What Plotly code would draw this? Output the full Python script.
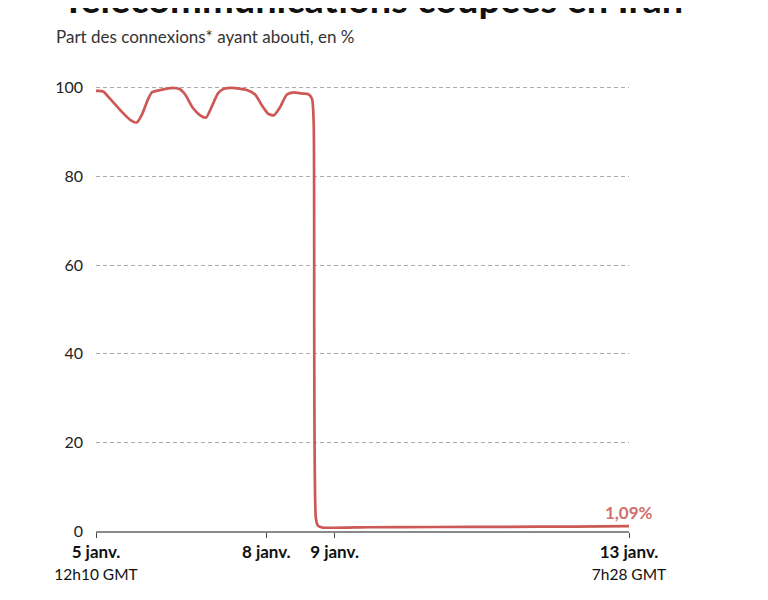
import plotly.graph_objects as go

# --- data ---
times = [
    "2026-01-05 12:10", "2026-01-05 14:40", "2026-01-05 17:10", "2026-01-05 20:40",
    "2026-01-06 00:10", "2026-01-06 02:30", "2026-01-06 04:20", "2026-01-06 06:30",
    "2026-01-06 07:50", "2026-01-06 10:40", "2026-01-06 15:10", "2026-01-06 17:40",
    "2026-01-06 19:30", "2026-01-06 22:10", "2026-01-07 00:45", "2026-01-07 02:50",
    "2026-01-07 05:00", "2026-01-07 07:05", "2026-01-07 09:10", "2026-01-07 12:00",
    "2026-01-07 17:10", "2026-01-07 20:05", "2026-01-07 22:30", "2026-01-08 00:35",
    "2026-01-08 02:40", "2026-01-08 04:45", "2026-01-08 07:15", "2026-01-08 09:45",
    "2026-01-08 12:35", "2026-01-08 14:40", "2026-01-08 16:05", "2026-01-08 16:40",
    "2026-01-08 17:25", "2026-01-08 18:10", "2026-01-08 19:35", "2026-01-09 12:00",
    "2026-01-10 12:00", "2026-01-11 12:00", "2026-01-12 12:00", "2026-01-13 07:28",
]
values = [
    99.3, 99.2, 97.5, 95.0,
    92.8, 92.2, 94.0, 97.5,
    99.0, 99.5, 100.0, 99.7,
    98.5, 95.5, 93.8, 93.3,
    96.0, 98.8, 99.8, 100.0,
    99.5, 98.5, 96.0, 94.2,
    93.8, 95.5, 98.5, 99.0,
    98.7, 98.6, 97.5, 92.0,
    3.0, 1.2, 0.8, 0.85,
    0.9, 0.95, 1.0, 1.09,
]
tick_vals = ["2026-01-05 12:10", "2026-01-08 00:00", "2026-01-09 00:00", "2026-01-13 07:28"]
tick_bold = ["5 janv.", "8 janv.", "9 janv.", "13 janv."]
tick_sub = ["12h10 GMT", "", "", "7h28 GMT"]
y_ticks = [0, 20, 40, 60, 80, 100]
title_text = "Télécommunications coupées en Iran"
subtitle_text = "Part des connexions* ayant abouti, en %"
last_label = "1,09%"

FONT = "Lato"
RED = "#cc5955"

tick_text = [
    "<b>" + b + "</b>" + ("<br><span style='font-size:15.5px'>" + s + "</span>" if s else "")
    for b, s in zip(tick_bold, tick_sub)
]

fig = go.Figure()
fig.add_trace(go.Scatter(
    x=times, y=values, mode="lines",
    line=dict(color=RED, width=2.7, shape="spline", smoothing=0.6),
    hoverinfo="skip", showlegend=False,
))

fig.update_layout(
    width=768, height=600,
    margin=dict(l=88, r=147, t=71, b=77),
    paper_bgcolor="white", plot_bgcolor="white",
    font=dict(family=FONT, color="#222"),
    xaxis=dict(
        type="date",
        range=[times[0], times[-1]],
        tickvals=tick_vals, ticktext=tick_text,
        tickfont=dict(size=17, color="#111"),
        showgrid=False, zeroline=False,
        showline=True, linecolor="#8a8a8a", linewidth=1.5,
        ticks="outside", ticklen=5, tickcolor="#444", tickwidth=1,
    ),
    yaxis=dict(
        range=[0, 102],
        tickvals=y_ticks,
        tickfont=dict(size=16, color="#222"),
        showgrid=True, gridcolor="#ababab", griddash="4px,3px", gridwidth=1,
        zeroline=False, showline=False, ticks="",
        ticklabelstandoff=12,
    ),
    annotations=[
        dict(text="<b>" + title_text + "</b>",
             xref="paper", yref="paper", x=-0.068, y=1.124, xanchor="left", yanchor="bottom",
             showarrow=False, font=dict(size=38, color="#111", family=FONT)),
        dict(text=subtitle_text,
             xref="paper", yref="paper", x=-0.079, y=1.094, xanchor="left", yanchor="middle",
             showarrow=False, font=dict(size=17, color="#333", family=FONT)),
        dict(text="<b>" + last_label + "</b>",
             x=times[-1], y=values[-1], xanchor="center", yanchor="middle",
             yshift=14, showarrow=False, font=dict(size=17, color="#d0716d", family=FONT)),
    ],
)

fig.write_html("out.html")
